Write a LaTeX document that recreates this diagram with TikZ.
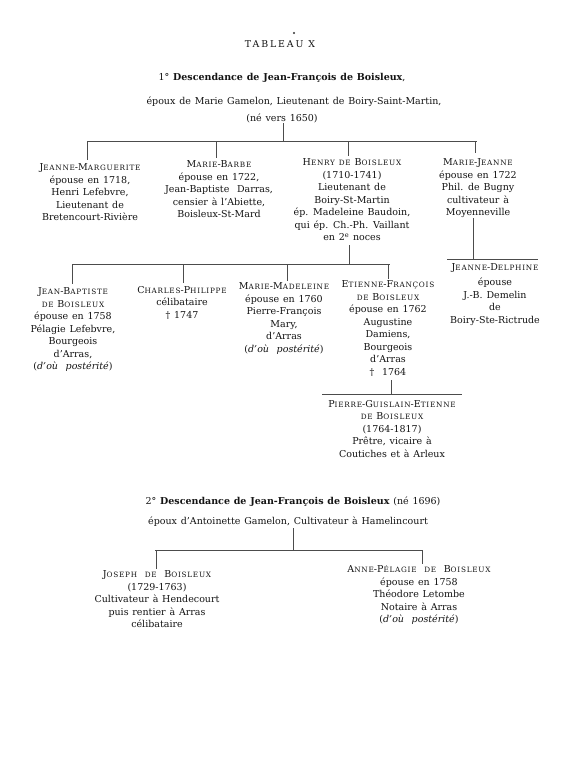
\documentclass[tikz,border=0pt]{standalone}
\usepackage{fontspec}
\setmainfont{DejaVu Serif}
\newcommand\bodyfont{\fontsize{9.5}{12.5}\selectfont\spaceskip=3.8pt plus 1pt minus 0.5pt\relax}
\newcommand\sm[1]{{\fontsize{7.3}{12.5}\selectfont\addfontfeature{LetterSpace=10}#1}}
\begin{document}
\begin{tikzpicture}[x=1pt,y=-1pt,
  every node/.style={inner sep=0pt, outer sep=0pt, text=black!92},
  person/.style={align=center, anchor=north, font=\bodyfont},
  head/.style={font=\bodyfont},
  link/.style={draw=black!70, line width=0.6pt}]
\fill[white] (0,0) rectangle (580,768);
\useasboundingbox (0,0) rectangle (580,768);

% ---- heading, first part
\node[circle, fill=black!80, minimum size=2.2pt] (dot) at (294,33) {};
\node[font=\fontsize{9.4}{10}\selectfont\addfontfeature{LetterSpace=20}] (tab) at (280,44) {TABLEAU X};
\node[head] (t1) at (282,78) {1° \textbf{Descendance de Jean-François de Boisleux},};
\node[head] (t2) at (294,102) {époux de Marie Gamelon, Lieutenant de Boiry-Saint-Martin,};
\node[head] (t3) at (282,118) {(né vers 1650)};

% ---- first generation
\node[person] (jm) at (90,164) {J\sm{EANNE}-M\sm{ARGUERITE}\\ épouse en 1718,\\ Henri Lefebvre,\\ Lieutenant de\\ Bretencourt-Rivière};
\node[person] (mb) at (219,161) {M\sm{ARIE}-B\sm{ARBE}\\ épouse en 1722,\\ Jean-Baptiste\ \ Darras,\\ censier à l'Abiette,\\ Boisleux-St-Mard};
\node[person] (hb) at (352,159) {H\sm{ENRY DE} B\sm{OISLEUX}\\ (1710-1741)\\ Lieutenant de\\ Boiry-St-Martin\\ ép. Madeleine Baudoin,\\ qui ép. Ch.-Ph. Vaillant\\ en 2\textsuperscript{e} noces};
\node[person] (mj) at (478,159) {M\sm{ARIE}-J\sm{EANNE}\\ épouse en 1722\\ Phil. de Bugny\\ cultivateur à\\ Moyenneville};

% ---- second generation
\node[person] (jb) at (73,288) {J\sm{EAN}-B\sm{APTISTE}\\ \sm{DE} B\sm{OISLEUX}\\ épouse en 1758\\ Pélagie Lefebvre,\\ Bourgeois\\ d'Arras,\\ (\textit{d'où\ \ postérité})};
\node[person] (cp) at (182,286) {C\sm{HARLES}-P\sm{HILIPPE}\\ célibataire\\ † 1747};
\node[person] (mm) at (284,283) {M\sm{ARIE}-M\sm{ADELEINE}\\ épouse en 1760\\ Pierre-François\\ Mary,\\ d'Arras\\ (\textit{d'où\ \ postérité})};
\node[person] (ef) at (388,281) {E\sm{TIENNE}-F\sm{RANÇOIS}\\ \sm{DE} B\sm{OISLEUX}\\ épouse en 1762\\ Augustine\\ Damiens,\\ Bourgeois\\ d'Arras\\ † \ 1764};
\node[person] (jd) at (495,264) {J\sm{EANNE}-D\sm{ELPHINE}\\[2.5pt] épouse\\ J.-B. Demelin\\ de\\ Boiry-Ste-Rictrude};
\node[person] (pg) at (392,400) {P\sm{IERRE}-G\sm{UISLAIN}-E\sm{TIENNE}\\ \sm{DE} B\sm{OISLEUX}\\ (1764-1817)\\ Prêtre, vicaire à\\ Coutiches et à Arleux};

% ---- heading, second part
\node[head] (s1) at (293,502) {2° \textbf{Descendance de Jean-François de Boisleux} (né 1696)};
\node[head] (s2) at (288,522) {époux d'Antoinette Gamelon, Cultivateur à Hamelincourt};
\node[person] (jo) at (157,571) {J\sm{OSEPH}\ \ \sm{DE}\ \ B\sm{OISLEUX}\\ (1729-1763)\\ Cultivateur à Hendecourt\\ puis rentier à Arras\\ célibataire};
\node[person] (ap) at (419,566) {A\sm{NNE}-P\sm{ÉLAGIE}\ \ \sm{DE}\ \ B\sm{OISLEUX}\\ épouse en 1758\\ Théodore Letombe\\ Notaire à Arras\\ (\textit{d'où\ \ postérité})};

% ---- connectors, first family
\coordinate (f1) at (283,123);
\coordinate (b1l) at (87,141);
\coordinate (b1r) at (477,141);
\draw[link] (f1) -- (f1 |- b1l);
\draw[link] (b1l) -- (b1r);
\draw[link] (b1l) -- (87,160);
\draw[link] (216,141) -- (216,158);
\draw[link] (348,141) -- (348,156);
\draw[link] (475,141) -- (475,153);

\coordinate (h2) at (349,245);
\coordinate (b2l) at (72,264);
\coordinate (b2r) at (390,264);
\draw[link] (h2) -- (h2 |- b2l);
\draw[link] (b2l) -- (b2r);
\draw[link] (b2l) -- (72,284);
\draw[link] (183,264) -- (183,283);
\draw[link] (287,264) -- (287,281);
\draw[link] (388,264) -- (388,279);

\coordinate (m2) at (473,218);
\coordinate (jdl) at (447,259);
\coordinate (jdr) at (538,259);
\draw[link] (m2) -- (m2 |- jdl);
\draw[link] (jdl) -- (jdr);

\coordinate (e2) at (391,380);
\coordinate (pgl) at (322,394);
\coordinate (pgr) at (462,394);
\draw[link] (e2) -- (e2 |- pgl);
\draw[link] (pgl) -- (pgr);

% ---- connectors, second family
\coordinate (f2) at (293,528);
\coordinate (b3l) at (155,550);
\coordinate (b3r) at (422,550);
\draw[link] (f2) -- (f2 |- b3l);
\draw[link] (b3l) -- (b3r);
\draw[link] (156,550) -- (156,569);
\draw[link] (b3r) -- (422,564);
\end{tikzpicture}
\end{document}
